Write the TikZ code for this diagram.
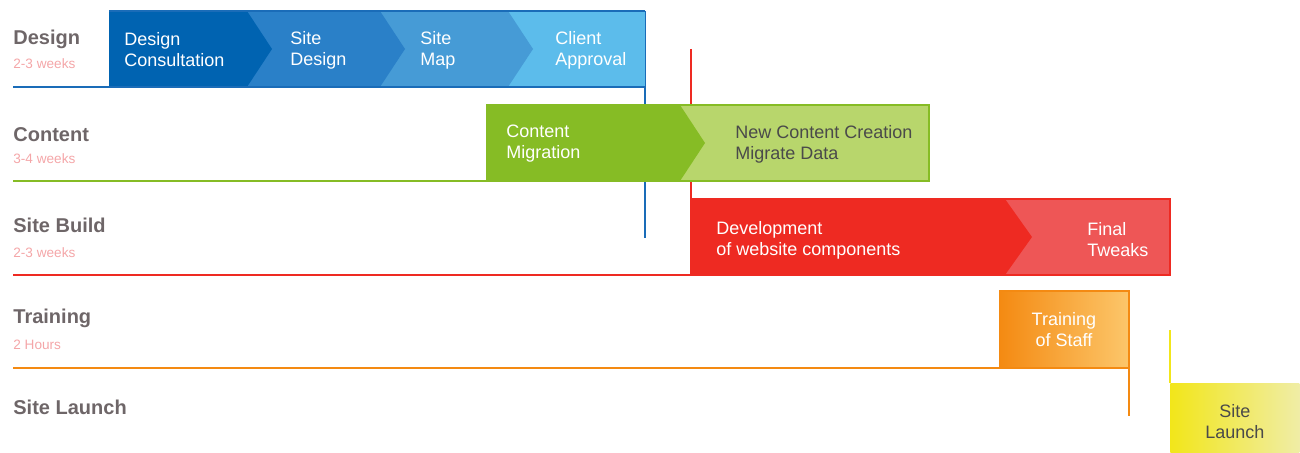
\documentclass[tikz,border=0pt]{standalone}
\usepackage{fontspec}
\setmainfont{Liberation Sans}
\usetikzlibrary{positioning}

\definecolor{phasegray}{HTML}{6E6668}
\definecolor{spanpink}{HTML}{F4A6A8}
\definecolor{darkgray}{HTML}{4A4A4A}
\definecolor{blueA}{HTML}{0063B1}
\definecolor{blueB}{HTML}{2A80C8}
\definecolor{blueC}{HTML}{469BD6}
\definecolor{blueD}{HTML}{5CBCEB}
\definecolor{blueline}{HTML}{1A6CB8}
\definecolor{greenA}{HTML}{86BC25}
\definecolor{greenB}{HTML}{B8D66C}
\definecolor{redA}{HTML}{EE2A22}
\definecolor{redB}{HTML}{EE5656}
\definecolor{orangeA}{HTML}{F48A12}
\definecolor{orangeB}{HTML}{FCC66A}
\definecolor{yellowA}{HTML}{F2E61A}
\definecolor{yellowB}{HTML}{F0EDA6}

\begin{document}
\begin{tikzpicture}[
    x = 0.5pt, y = -0.5pt,
    phase/.style = {anchor=base west, inner sep=0, text=phasegray, font=\bfseries\fontsize{10}{12}\selectfont},
    span/.style = {anchor=base west, inner sep=0, text=spanpink, font=\fontsize{6.8}{8}\selectfont},
    task/.style = {anchor=west, inner sep=0, align=left, text=white, font=\fontsize{9}{10.5}\selectfont},
    box/.style = {anchor=north west, inner sep=0, minimum width=64.5pt, minimum height=38pt, align=center, font=\fontsize{9}{10.5}\selectfont},
    line/.style = {line width=0.9pt}
]

    \useasboundingbox (0,0) rectangle (1300,453);

    % Phase labels
    \node [phase] (design) at (13,45) {Design};
    \node [span, below=12pt of design.base west, anchor=base west] (designspan) {2-3 weeks};
    \node [phase] (content) at (13,142) {Content};
    \node [span, below=11pt of content.base west, anchor=base west] (contentspan) {3-4 weeks};
    \node [phase] (build) at (13,233) {Site Build};
    \node [span, below=12.5pt of build.base west, anchor=base west] (buildspan) {2-3 weeks};
    \node [phase] (training) at (13,324) {Training};
    \node [span, below=13pt of training.base west, anchor=base west] (trainingspan) {2 Hours};
    \node [phase] (launch) at (13,415) {Site Launch};

    % Drop lines (under the bars)
    \coordinate (designdrop) at (645,238);
    \coordinate (buildtop) at (691,49);
    \draw [line, blueline] (645,11) -- (designdrop);
    \draw [line, redA] (buildtop) -- (691,275);

    % Design bar
    \fill [blueD] (508,11) rectangle (645,87);
    \fill [blueC] (380,11) -- (508,11) -- (533,49) -- (508,87) -- (380,87) -- cycle;
    \fill [blueB] (247,11) -- (380,11) -- (405,49) -- (380,87) -- (247,87) -- cycle;
    \fill [blueA] (109,11) -- (247,11) -- (272,49) -- (247,87) -- (109,87) -- cycle;
    \draw [line, blueline] (13,87) -- (645,87) (109,11) -- (645,11);

    % Content bar
    \fill [greenB] (680,105) rectangle (929,181);
    \fill [greenA] (486,105) -- (680,105) -- (705,143) -- (680,181) -- (486,181) -- cycle;
    \draw [line, greenA] (13,181) -- (929,181) -- (929,105) -- (486,105);

    % Site build bar
    \fill [redB] (1005,199) rectangle (1170,275);
    \fill [redA] (691,199) -- (1005,199) -- (1032,237) -- (1005,275) -- (691,275) -- cycle;
    \draw [line, redA] (13,275) -- (1170,275) -- (1170,199) -- (691,199);

    % Tasks
    \node [task] (consult) at (124,50) {Design\\Consultation};
    \node [task] (sitedesign) at (290,50) {Site\\Design};
    \node [task] (sitemap) at (420,50) {Site\\Map};
    \node [task] (approval) at (555,50) {Client\\Approval};
    \node [task] (migration) at (506,144) {Content\\Migration};
    \node [task, text=darkgray] (creation) at (735,144) {New Content Creation\\Migrate Data};
    \node [task] (develop) at (716,240) {Development\\of website components};
    \node [task] (tweaks) at (1087,240) {Final\\Tweaks};
    \node [box, left color=orangeA, right color=orangeB, text=white] (staff) at (999,291) {Training\\of Staff};
    \node [box, left color=yellowA, right color=yellowB, text=darkgray] (golive) at (1170,383) {Site\\Launch};

    % Edges
    \draw [line, orangeA] (staff.south east) -- (staff.south west) -- (design.west |- staff.south west);
    \draw [line, orangeA] (staff.north west) -- (staff.north east) -- ++(0,125);
    \draw [line, yellowA] (golive.north west) -- ++(0,-53);

\end{tikzpicture}
\end{document}
